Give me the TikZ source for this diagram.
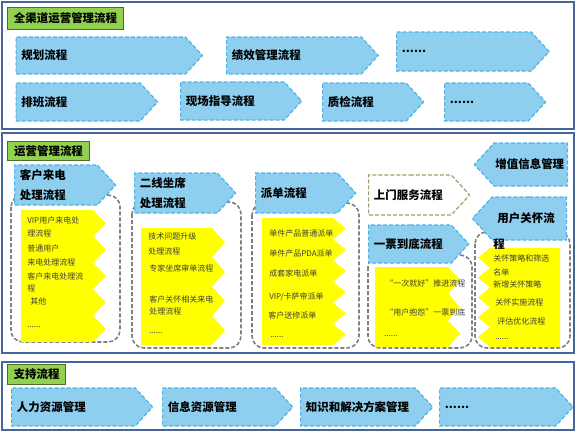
\documentclass[tikz,border=0pt]{standalone}
\usepackage{fontspec}
\setmainfont{Noto Sans CJK SC}
\usepackage{tikz}
\usetikzlibrary{shapes, shapes.symbols, positioning}
\usepackage{xcolor}
\definecolor{procfill}{HTML}{8ECFF0}
\definecolor{procline}{HTML}{4DB2E6}
\definecolor{grpfill}{HTML}{92D050}
\definecolor{grpline}{HTML}{4F6B28}
\definecolor{framec}{HTML}{46669A}
\definecolor{khaki}{HTML}{A59A6C}
\definecolor{stepyel}{HTML}{FFFF00}
\tikzset{%
    % panels and their green titles
    panel/.style  = {draw=framec, line width=1.1pt},
    grp/.style    = {rectangle, draw=grpline, fill=grpfill, line width=0.8pt,
    anchor=north west, inner sep=2pt, font=\fontsize{8.6}{10}\selectfont\bfseries},
    % arrow shaped process boxes
    proc/.style   = {signal, signal to=east, signal pointer angle=95,
    draw=procline, fill=procfill, dash pattern=on 3pt off 1.5pt, line width=0.9pt,
    anchor=west, align=left, inner xsep=4pt, inner ysep=0pt,
    font=\fontsize{8.6}{15}\selectfont\bfseries},
    procl/.style  = {proc, signal to=west, anchor=east},
    % sub process lists
    grpbox/.style = {draw=black!50, line width=1.2pt, dash pattern=on 3pt off 1.5pt,
    rounded corners=9pt},
    ystack/.style = {fill=stepyel},
    item/.style   = {anchor=west, inner sep=0pt, text=black!75,
    font=\fontsize{6}{7}\selectfont}
}
\begin{document}
\begin{tikzpicture}[x=0.75pt, y=-0.75pt]
	\useasboundingbox (0,0) rectangle (577,432);
	
	% three panels
	\draw[panel] (2,2) rectangle (574,129);
	\draw[panel] (2,133) rectangle (574,353);
	\draw[panel] (2,362) rectangle (574,430);
	\node[grp, minimum width=87pt, minimum height=16.5pt] (omni) at (7,7) {全渠道运营管理流程};
	\node[grp, minimum width=61.5pt, minimum height=14.5pt] (ops) at (7,141) {运营管理流程};
	\node[grp, minimum width=43.5pt, minimum height=15pt] (supp) at (7,364) {支持流程};
	
	% top panel
	\node[proc, text width=119pt, minimum height=27.75pt] (plan) at (15.5,55.5) {规划流程};
	\node[proc, text width=93pt, minimum height=27.75pt] (perf) at (226,55.5) {绩效管理流程};
	\node[proc, text width=93pt, minimum height=29.25pt] (more1) at (396,51.5) {......};
	\node[proc, text width=85pt, minimum height=28.5pt] (shift) at (15.5,102) {排班流程};
	\node[proc, text width=69.7pt, minimum height=28.5pt] (site) at (180,101) {现场指导流程};
	\node[proc, text width=54.7pt, minimum height=28.5pt] (qc) at (322,102) {质检流程};
	\node[proc, text width=54.7pt, minimum height=28.5pt] (more2) at (444,102) {......};
	
	% middle panel: dashed groups
	\draw[grpbox] (11,195) rectangle (120,342);
	\draw[grpbox] (132,202) rectangle (241,348);
	\draw[grpbox] (252,203) rectangle (359,348);
	\draw[grpbox] (368,255) rectangle (472,348);
	\draw[grpbox] (475,232) rectangle (570,348);
	
	% yellow step lists
	\fill[ystack] (21,210) -- (93,210) \foreach \k in {0,...,4} {-- (106,{210+26.4*\k+13.2}) -- (93,{210+26.4*\k+26.4})} -- (21,342) -- cycle;
	\fill[ystack] (141,228) -- (212,228) \foreach \k in {0,...,3} {-- (225,{228+29.25*\k+14.6}) -- (212,{228+29.25*\k+29.25})} -- (141,345) -- cycle;
	\fill[ystack] (262,218) -- (333,218) \foreach \k in {0,...,5} {-- (346,{218+21.2*\k+10.6}) -- (333,{218+21.2*\k+21.2})} -- (262,345) -- cycle;
	\fill[ystack] (375,267) -- (448,267) \foreach \k in {0,...,2} {-- (460,{267+26.7*\k+13.3}) -- (448,{267+26.7*\k+26.7})} -- (375,347) -- cycle;
	\fill[ystack] (560,248) -- (490,248) \foreach \k in {0,...,4} {-- (478,{248+19.8*\k+9.9}) -- (490,{248+19.8*\k+19.8})} -- (560,347) -- cycle;
	
	\node[item] (c1a) at (27,220) {VIP用户来电处};
	\node[item] (c1b) at (27,233) {理流程};
	\node[item] (c1c) at (27,248) {普通用户};
	\node[item] (c1d) at (27,262) {来电处理流程};
	\node[item] (c1e) at (27,276) {客户来电处理流};
	\node[item] (c1f) at (27,289) {程};
	\node[item] (c1g) at (30,301) {其他};
	\node[item] (c1h) at (27,327) {......};
	
	\node[item] (c2a) at (148,236) {技术问题升级};
	\node[item] (c2b) at (148,251) {处理流程};
	\node[item] (c2c) at (149,268) {专家坐席审单流程};
	\node[item] (c2d) at (149,299) {客户关怀相关来电};
	\node[item] (c2e) at (149,311) {处理流程};
	\node[item] (c2f) at (149,333) {......};
	
	\node[item] (c3a) at (269,233) {单件产品普通派单};
	\node[item] (c3b) at (269,253) {单件产品PDA派单};
	\node[item] (c3c) at (269,273) {成套家电派单};
	\node[item] (c3d) at (269,297) {VIP/卡萨帝派单};
	\node[item] (c3e) at (268,315) {客户送修派单};
	\node[item] (c3f) at (270,337) {......};
	
	\node[item] (c4a) at (385,283) {“一次就好”推进流程};
	\node[item] (c4b) at (385,312) {“用户抱怨”一票到底};
	\node[item] (c4c) at (384,336) {......};
	
	\node[item] (c5a) at (493,258) {关怀策略和筛选};
	\node[item] (c5b) at (493,272) {名单};
	\node[item] (c5c) at (493,284) {新增关怀策略};
	\node[item] (c5d) at (495,302) {关怀实施流程};
	\node[item] (c5e) at (497,321) {评估优化流程};
	\node[item] (c5f) at (495,339) {......};
	
	% middle panel: process arrows
	\node[proc, text width=54pt, minimum height=30pt] (call) at (14,185) {客户来电\\处理流程};
	\node[proc, text width=54pt, minimum height=30pt] (second) at (134,193) {二线坐席\\处理流程};
	\node[proc, text width=53.3pt, minimum height=30pt] (dispatch) at (255,193) {派单流程};
	\node[proc, draw=khaki, fill=white, text width=54pt, minimum height=30pt] (onsite) at (368,195) {上门服务流程};
	\node[proc, text width=54pt, minimum height=28.5pt] (ticket) at (368,244) {一票到底流程};
	\node[procl, inner xsep=1pt, text width=53pt, minimum height=32.25pt] (value) at (568,164.5) {增值信息管理};
	\node[procl, text width=47.7pt, minimum height=32.25pt] (care) at (567,218.5) {用户关怀流};
	\node[anchor=west, inner sep=0pt, font=\fontsize{8.6}{10}\selectfont\bfseries] (care2) at (493,244) {程};
	
	% bottom panel
	\node[proc, text width=84.7pt, minimum height=28.5pt] (hr) at (11,407) {人力资源管理};
	\node[proc, text width=76.5pt, minimum height=28.5pt] (info) at (162,407) {信息资源管理};
	\node[proc, text width=78pt, minimum height=28.5pt] (know) at (300,407) {知识和解决方案管理};
	\node[proc, text width=79pt, minimum height=28.5pt] (more3) at (439,407) {......};
	
\end{tikzpicture}
\end{document}
